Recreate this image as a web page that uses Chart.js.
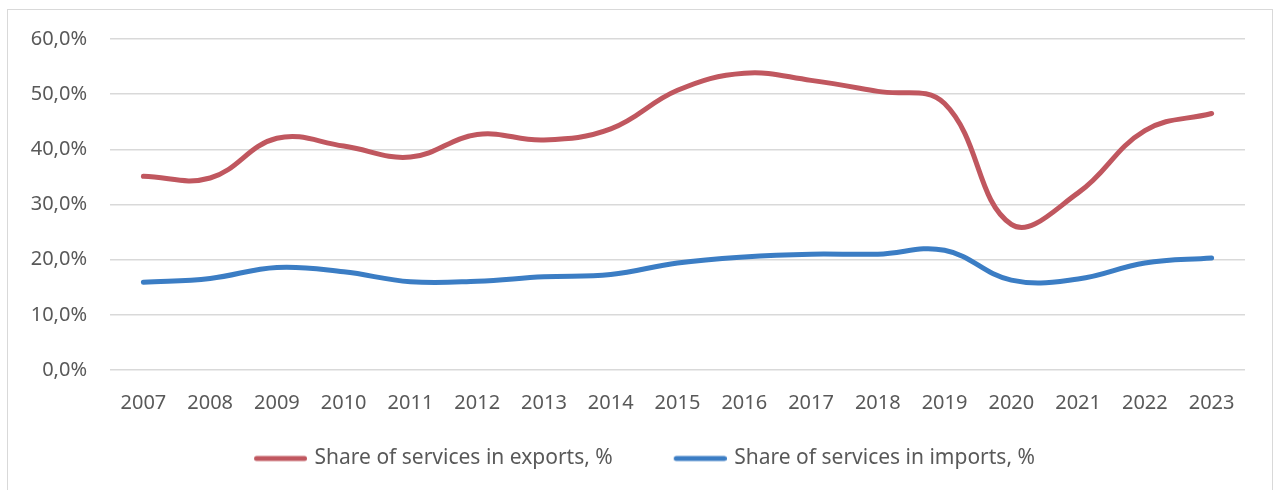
<!DOCTYPE html>
<html>
<head>
<meta charset="utf-8">
<script src="https://cdn.jsdelivr.net/npm/chart.js@4/dist/chart.umd.min.js"></script>
<style>
  html, body { margin: 0; padding: 0; background: #ffffff; overflow: hidden; }
  #frame { position: absolute; left: 7px; top: 9px; width: 1266px; height: 520px; border: 1.5px solid #d9d9d9; box-sizing: border-box; }
  #wrap { position: absolute; left: 0; top: 0; width: 1280px; height: 490px; }
</style>
</head>
<body>
<div id="frame"></div>
<div id="wrap"><canvas id="c" width="1280" height="490"></canvas></div>
<script>
const years = ['2007','2008','2009','2010','2011','2012','2013','2014','2015','2016','2017','2018','2019','2020','2021','2022','2023'];
const exportsShare = [35.1, 34.8, 42.0, 40.6, 38.6, 42.7, 41.7, 43.7, 50.7, 53.8, 52.5, 50.5, 48.3, 26.4, 32.1, 43.4, 46.5];
const importsShare = [15.9, 16.6, 18.6, 17.8, 16.0, 16.1, 16.9, 17.3, 19.4, 20.5, 21.0, 21.0, 21.7, 16.3, 16.5, 19.4, 20.3];
const seriesNames = ['Share of services in exports, %', 'Share of services in imports, %'];

const textColor = '#595959';
const fontFamily = '"Noto Sans", Lato, sans-serif';
const exportColor = '#c0575f';
const importColor = '#3b7dc4';

// Legend swatch: a short thick rounded line, right-aligned inside a wider box
const SWATCH_BOX = 94;
function makeSwatch(color) {
  const cv = document.createElement('canvas');
  cv.width = SWATCH_BOX + 6;
  cv.height = 8;
  const g = cv.getContext('2d');
  g.strokeStyle = color;
  g.lineWidth = 5;
  g.lineCap = 'round';
  g.beginPath();
  g.moveTo(cv.width - 53 + 2.5, 4);
  g.lineTo(cv.width - 2.5, 4);
  g.stroke();
  return cv;
}

new Chart(document.getElementById('c'), {
  type: 'line',
  data: {
    labels: years,
    datasets: [
      {
        label: seriesNames[0],
        data: exportsShare,
        borderColor: exportColor,
        backgroundColor: exportColor,
        borderWidth: 5,
        borderCapStyle: 'round',
        pointRadius: 0,
        pointStyle: makeSwatch(exportColor),
        tension: 0.4
      },
      {
        label: seriesNames[1],
        data: importsShare,
        borderColor: importColor,
        backgroundColor: importColor,
        borderWidth: 5,
        borderCapStyle: 'round',
        pointRadius: 0,
        pointStyle: makeSwatch(importColor),
        tension: 0.4
      }
    ]
  },
  options: {
    responsive: false,
    animation: false,
    layout: { padding: { left: 0, right: 35, top: 39, bottom: 11 } },
    plugins: {
      tooltip: { enabled: false },
      legend: {
        position: 'bottom',
        labels: {
          usePointStyle: true,
          pointStyleWidth: SWATCH_BOX,
          padding: 17,
          color: textColor,
          font: { family: fontFamily, size: 21 }
        }
      }
    },
    scales: {
      x: {
        offset: true,
        grid: { display: false, drawTicks: false },
        border: { display: false },
        ticks: { color: textColor, padding: 21, maxRotation: 0, autoSkip: false, font: { family: fontFamily, size: 20 } },
        afterFit: s => { s.height = 61; }
      },
      y: {
        min: 0,
        max: 60,
        grid: { color: '#d9d9d9', lineWidth: 1.5, drawTicks: false },
        border: { display: false },
        ticks: {
          stepSize: 10,
          color: textColor,
          padding: 23,
          font: { family: fontFamily, size: 20 },
          callback: v => Number(v).toFixed(1).replace('.', ',') + '%'
        },
        afterFit: s => { s.width = 110; }
      }
    }
  }
});
</script>
</body>
</html>
